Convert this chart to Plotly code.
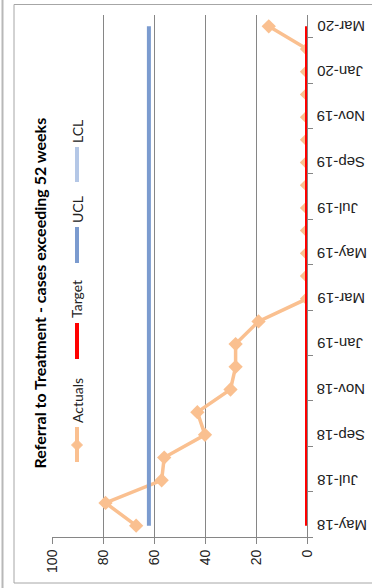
import plotly.graph_objects as go

# Monthly series, May-18 to Mar-20
months = ["May-18", "Jun-18", "Jul-18", "Aug-18", "Sep-18", "Oct-18", "Nov-18",
          "Dec-18", "Jan-19", "Feb-19", "Mar-19", "Apr-19", "May-19", "Jun-19",
          "Jul-19", "Aug-19", "Sep-19", "Oct-19", "Nov-19", "Dec-19", "Jan-20",
          "Feb-20", "Mar-20"]
actuals = [67, 79, 57, 56, 40, 43, 30, 28, 28, 19, 0, 0, 0, 0, 0, 0, 0, 0, 0, 0, 0, 0, 15]
target = [0] * len(months)
ucl = [62] * len(months)
value_ticks = [0, 20, 40, 60, 80, 100]

W, H = 372, 588
L, R, T, B = 52, 65, 15, 51

ORANGE = "#FAC090"
RED = "#FF0000"
UCL_BLUE = "#7B9BCF"
LCL_BLUE = "#B4C7E6"
GRID = "#868686"
TXT = "#222222"

# months run up the chart, one slot per month
pos = list(range(len(months)))


def px_x(x):
    return (x - L) / (W - L - R)


def px_y(y):
    return (H - B - y) / (H - T - B)


fig = go.Figure()
fig.add_trace(go.Scatter(x=actuals, y=pos, mode="lines+markers", name="Actuals",
                         line=dict(color=ORANGE, width=3.5),
                         marker=dict(symbol="diamond", size=11, color=ORANGE)))
fig.add_trace(go.Scatter(x=target, y=pos, mode="lines", name="Target",
                         line=dict(color=RED, width=4)))
fig.add_trace(go.Scatter(x=ucl, y=pos, mode="lines", name="UCL",
                         line=dict(color=UCL_BLUE, width=4)))

fig.update_xaxes(range=[100, 0], tickvals=value_ticks, showgrid=True,
                 gridcolor=GRID, gridwidth=1, zeroline=False,
                 showline=True, linecolor=GRID, linewidth=1,
                 ticks="outside", ticklen=6, tickcolor=GRID,
                 tickangle=-90, tickfont=dict(family="Liberation Sans", size=14, color=TXT))

fig.update_yaxes(range=[-0.5, len(months) - 0.5], side="right",
                 showticklabels=False, ticks="",
                 showgrid=False, zeroline=False,
                 showline=True, linecolor=GRID, linewidth=1,
                 minor=dict(tickvals=[p + 0.5 for p in range(-1, len(months), 2)],
                            ticks="outside", ticklen=5, tickcolor=GRID, showgrid=False))

shapes = []
annotations = []

# month labels, turned upside down beside the category axis
for p in pos[::2]:
    annotations.append(dict(text=months[p], xref="paper", yref="y",
                            x=px_x(315), y=p, xanchor="left", yanchor="middle",
                            textangle=180, showarrow=False,
                            font=dict(family="Liberation Sans", size=15, color=TXT)))

# chart frame
shapes.append(dict(type="rect", xref="paper", yref="paper",
                   x0=px_x(14), x1=px_x(390), y0=px_y(583), y1=px_y(4.5),
                   line=dict(color="#A6A6A6", width=1)))
shapes.append(dict(type="line", xref="paper", yref="paper",
                   x0=px_x(2.5), x1=px_x(2.5), y0=px_y(0), y1=px_y(588),
                   line=dict(color="#B8B8B8", width=2)))

# title
annotations.append(dict(text="<b>Referral to Treatment - cases exceeding 52 weeks</b>",
                        xref="paper", yref="paper", x=px_x(39), y=px_y(293.5),
                        xanchor="center", yanchor="middle",
                        textangle=-90, showarrow=False,
                        font=dict(family="Lato", size=16, color="#000000")))

# legend, stacked up the left side
leg_x = 77
legend_items = [
    ("Actuals", ORANGE, 462, 427, 401),
    ("Target", RED, 359, 323, 299),
    ("UCL", UCL_BLUE, 263, 227, 210),
    ("LCL", LCL_BLUE, 182, 147, 132),
]
for name, color, y_lo, y_hi, y_txt in legend_items:
    shapes.append(dict(type="line", xref="paper", yref="paper",
                       x0=px_x(leg_x), x1=px_x(leg_x), y0=px_y(y_lo), y1=px_y(y_hi),
                       line=dict(color=color, width=4)))
    annotations.append(dict(text=name, xref="paper", yref="paper",
                            x=px_x(leg_x), y=px_y(y_txt), textangle=-90,
                            xanchor="center", yanchor="middle",
                            showarrow=False,
                            font=dict(family="Lato", size=14, color=TXT)))

# diamond key for Actuals
cx, cy, r = leg_x, 445, 5.5
diamond = (f"M {px_x(cx)} {px_y(cy - r)} L {px_x(cx + r)} {px_y(cy)} "
           f"L {px_x(cx)} {px_y(cy + r)} L {px_x(cx - r)} {px_y(cy)} Z")
shapes.append(dict(type="path", xref="paper", yref="paper", path=diamond,
                   fillcolor=ORANGE, line=dict(color=ORANGE, width=1)))

fig.update_layout(width=W, height=H, autosize=False,
                  margin=dict(l=L, r=R, t=T, b=B),
                  paper_bgcolor="white", plot_bgcolor="white",
                  showlegend=False, shapes=shapes, annotations=annotations)

fig.write_html("out.html")
